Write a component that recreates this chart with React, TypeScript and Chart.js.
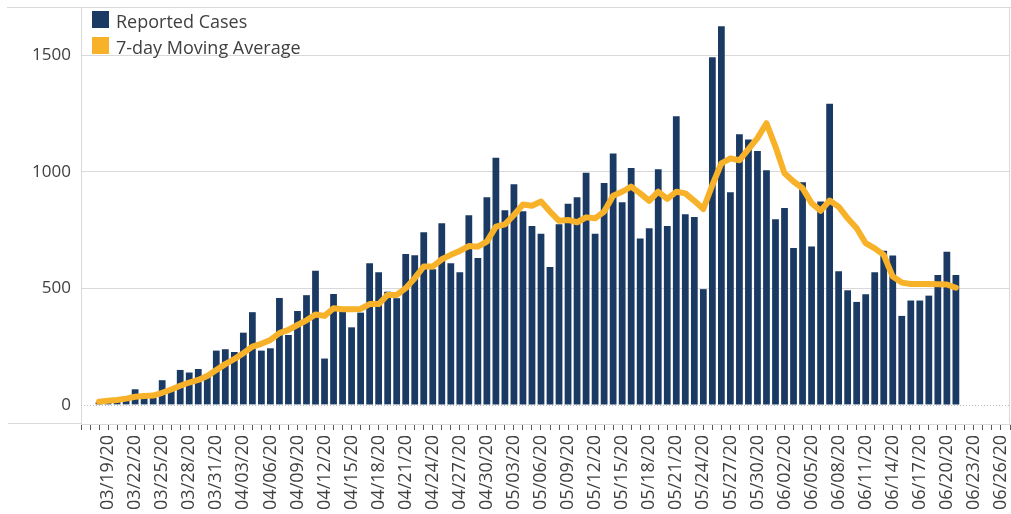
import React, { useEffect, useRef } from "react";
import { Chart, registerables } from "chart.js";

Chart.register(...registerables);

// Every day shown on the date axis (03/16/20 .. 06/27/20)
const axisDates = [
  "03/16/20", "03/17/20", "03/18/20", "03/19/20", "03/20/20", "03/21/20", "03/22/20", "03/23/20",
  "03/24/20", "03/25/20", "03/26/20", "03/27/20", "03/28/20", "03/29/20", "03/30/20", "03/31/20",
  "04/01/20", "04/02/20", "04/03/20", "04/04/20", "04/05/20", "04/06/20", "04/07/20", "04/08/20",
  "04/09/20", "04/10/20", "04/11/20", "04/12/20", "04/13/20", "04/14/20", "04/15/20", "04/16/20",
  "04/17/20", "04/18/20", "04/19/20", "04/20/20", "04/21/20", "04/22/20", "04/23/20", "04/24/20",
  "04/25/20", "04/26/20", "04/27/20", "04/28/20", "04/29/20", "04/30/20",
  "05/01/20", "05/02/20", "05/03/20", "05/04/20", "05/05/20", "05/06/20", "05/07/20", "05/08/20",
  "05/09/20", "05/10/20", "05/11/20", "05/12/20", "05/13/20", "05/14/20", "05/15/20", "05/16/20",
  "05/17/20", "05/18/20", "05/19/20", "05/20/20", "05/21/20", "05/22/20", "05/23/20", "05/24/20",
  "05/25/20", "05/26/20", "05/27/20", "05/28/20", "05/29/20", "05/30/20", "05/31/20",
  "06/01/20", "06/02/20", "06/03/20", "06/04/20", "06/05/20", "06/06/20", "06/07/20", "06/08/20",
  "06/09/20", "06/10/20", "06/11/20", "06/12/20", "06/13/20", "06/14/20", "06/15/20", "06/16/20",
  "06/17/20", "06/18/20", "06/19/20", "06/20/20", "06/21/20", "06/22/20", "06/23/20", "06/24/20",
  "06/25/20", "06/26/20", "06/27/20",
];

// Labelled ticks on the date axis
const tickLabels = [
  "03/19/20", "03/22/20", "03/25/20", "03/28/20", "03/31/20", "04/03/20", "04/06/20", "04/09/20",
  "04/12/20", "04/15/20", "04/18/20", "04/21/20", "04/24/20", "04/27/20", "04/30/20", "05/03/20",
  "05/06/20", "05/09/20", "05/12/20", "05/15/20", "05/18/20", "05/21/20", "05/24/20", "05/27/20",
  "05/30/20", "06/02/20", "06/05/20", "06/08/20", "06/11/20", "06/14/20", "06/17/20", "06/20/20",
  "06/23/20", "06/26/20",
];

// First date that has data; the series below run one value per day from it
const firstDataDate = "03/18/20";

const reportedCases = [
  12, 18, 22, 36, 67, 36, 30, 106, 72, 150, 139, 154, 133, 233,
  239, 227, 310, 398, 233, 243, 459, 300, 403, 471, 576, 199, 476, 403, 333, 396,
  608, 569, 486, 458, 648, 642, 741, 582, 780, 608, 569, 814, 631, 891,
  1061, 836, 947, 831, 768, 735, 592, 775, 863, 891, 996, 735, 953, 1079, 870, 1017,
  714, 758, 1011, 768, 1239, 818, 807, 497, 1492, 1625, 913, 1162, 1139, 1090, 1007,
  797, 845, 674, 956, 680, 873, 1293, 574, 492, 442, 475, 569, 662, 641, 382,
  448, 448, 469, 558, 657, 558,
];

const movingAverage = [
  14, 18, 21, 27, 35, 38, 40, 52, 66, 82, 96, 107, 124, 150,
  175, 197, 222, 250, 262, 279, 308, 322, 343, 363, 388, 382, 415, 411, 411, 412,
  433, 433, 472, 472, 501, 544, 594, 594, 625, 644, 661, 682, 679, 701,
  765, 775, 815, 860, 855, 873, 830, 790, 794, 784, 805, 801, 830, 898, 915, 937,
  908, 876, 915, 884, 915, 908, 876, 841, 944, 1037, 1058, 1050, 1098, 1145, 1209,
  1109, 994, 959, 930, 866, 833, 877, 851, 801, 758, 694, 672, 644, 551,
  525, 519, 519, 519, 518, 517, 503,
];

const yTickValues = [0, 500, 1000, 1500];
const yMin = -82;
const yMax = 1708;

const seriesLabels = ["Reported Cases", "7-day Moving Average"];

const BAR_COLOR = "#1b3a63";
const LINE_COLOR = "#f8b229";
const TEXT_COLOR = "#404040";
const FRAME_COLOR = "#d9d9d9";
const FONT = "'Open Sans', 'DejaVu Sans', sans-serif";

const framePlugin = {
  id: "frameAndLegend",
  beforeDatasetsDraw(chart: any) {
    const { ctx, chartArea } = chart;
    const y0 = Math.round(chart.scales.y.getPixelForValue(0)) + 0.5;
    ctx.save();
    ctx.strokeStyle = "#bfbfbf";
    ctx.lineWidth = 1;
    ctx.setLineDash([1, 2]);
    ctx.beginPath();
    ctx.moveTo(chartArea.left, y0);
    ctx.lineTo(chartArea.right, y0);
    ctx.stroke();
    ctx.restore();
  },
  afterDraw(chart: any) {
    const { ctx, chartArea, width } = chart;
    ctx.save();
    ctx.strokeStyle = FRAME_COLOR;
    ctx.lineWidth = 1;
    const top = Math.round(chartArea.top) + 0.5;
    const bottom = Math.round(chartArea.bottom) - 0.5;
    const right = Math.round(chartArea.right) - 0.5;
    ctx.beginPath();
    ctx.moveTo(7, top);
    ctx.lineTo(width, top);
    ctx.moveTo(right, top);
    ctx.lineTo(right, bottom);
    ctx.moveTo(8, bottom);
    ctx.lineTo(chartArea.left, bottom);
    ctx.stroke();

    // legend, inside the plot area at top left
    ctx.font = `18px ${FONT}`;
    ctx.textBaseline = "middle";
    ctx.textAlign = "left";
    const datasets = chart.data.datasets;
    for (let i = 0; i < datasets.length; i++) {
      const ds = datasets[i];
      const boxY = 11 + i * 26;
      ctx.fillStyle = ds.type === "line" ? ds.borderColor : ds.backgroundColor;
      ctx.fillRect(92, boxY, 17, 17);
      ctx.fillStyle = TEXT_COLOR;
      ctx.fillText(ds.label, 116, boxY + 12);
    }
    ctx.restore();
  },
};

export default function App() {
  const canvasRef = useRef<HTMLCanvasElement | null>(null);

  useEffect(() => {
    if (!canvasRef.current) return;
    const start = axisDates.indexOf(firstDataDate);
    const barPoints = reportedCases.map((v, i) => ({ x: axisDates[start + i], y: v }));
    const linePoints = movingAverage.map((v, i) => ({ x: axisDates[start + i], y: v }));

    const chart = new Chart(canvasRef.current, {
      type: "bar",
      data: {
        labels: axisDates,
        datasets: [
          {
            type: "bar",
            label: seriesLabels[0],
            data: barPoints as any,
            backgroundColor: BAR_COLOR,
            borderWidth: 0,
            categoryPercentage: 0.75,
            barPercentage: 1,
            order: 2,
          },
          {
            type: "line",
            label: seriesLabels[1],
            data: linePoints as any,
            borderColor: LINE_COLOR,
            backgroundColor: LINE_COLOR,
            borderWidth: 6,
            pointRadius: 0,
            tension: 0,
            fill: false,
            borderCapStyle: "round",
            borderJoinStyle: "round",
            order: 1,
          } as any,
        ],
      },
      options: {
        responsive: false,
        animation: false,
        devicePixelRatio: 1,
        layout: { padding: { top: 7, right: 1, left: 0, bottom: 0 } },
        plugins: {
          legend: { display: false },
          tooltip: { enabled: false },
        },
        scales: {
          x: {
            type: "category",
            offset: false,
            grid: {
              offset: false,
              drawOnChartArea: false,
              drawTicks: true,
              tickLength: 6,
              tickColor: "#595959",
              color: "#595959",
            },
            border: { color: FRAME_COLOR },
            ticks: {
              autoSkip: false,
              minRotation: 90,
              maxRotation: 90,
              padding: 5,
              color: TEXT_COLOR,
              font: { family: FONT, size: 18 },
              callback: (_v: any, i: number) => (tickLabels.includes(axisDates[i]) ? axisDates[i] : ""),
            },
            afterFit: (scale: any) => {
              scale.height = 90;
              scale.paddingLeft = 0;
              scale.paddingRight = 0;
            },
          },
          y: {
            type: "linear",
            min: yMin,
            max: yMax,
            afterBuildTicks: (scale: any) => {
              scale.ticks = yTickValues.map((v) => ({ value: v }));
            },
            grid: {
              drawTicks: false,
              color: (c: any) => (c.tick && c.tick.value === 0 ? "rgba(0,0,0,0)" : FRAME_COLOR),
            },
            border: { color: FRAME_COLOR },
            ticks: {
              padding: 10,
              color: TEXT_COLOR,
              font: { family: FONT, size: 17 },
              callback: (v: any) => String(v),
            },
            afterFit: (scale: any) => {
              scale.width = 81;
              scale.paddingTop = 0;
              scale.paddingBottom = 0;
            },
          },
        },
      } as any,
      plugins: [framePlugin],
    });
    return () => chart.destroy();
  }, []);

  return (
    <div style={{ position: "fixed", left: 0, top: 0, width: 1011, height: 514, background: "#fff" }}>
      <canvas ref={canvasRef} width={1011} height={514} style={{ width: 1011, height: 514 }} />
    </div>
  );
}
